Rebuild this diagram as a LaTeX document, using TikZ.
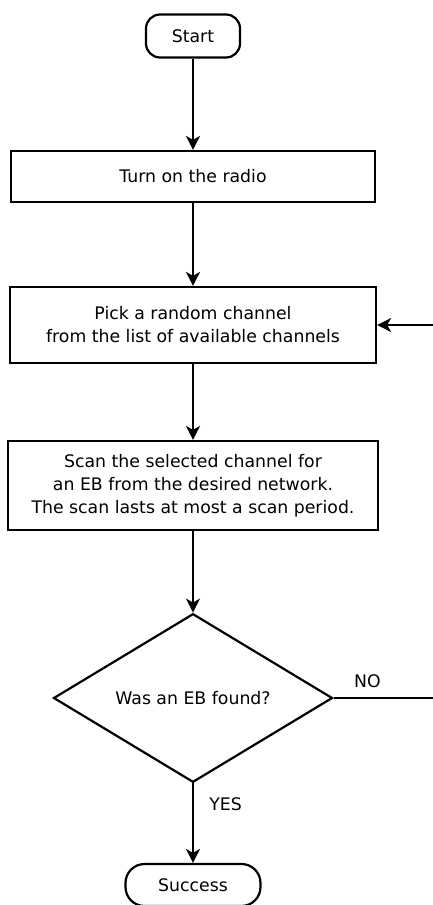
\documentclass[tikz,border=0pt]{standalone}
\usepackage{fontspec}
\setmainfont{DejaVu Sans}
\usetikzlibrary{shapes.geometric,arrows.meta}
\begin{document}
\begin{tikzpicture}[x=1pt,y=-1pt,
  every node/.style={font=\fontsize{17.3}{23}\selectfont},
  box/.style={draw,line width=2.2pt,rectangle,inner sep=0pt,align=center},
  term/.style={draw,line width=2.2pt,rectangle,inner sep=0pt,align=center},
  dec/.style={draw,line width=2.2pt,diamond,inner sep=0pt,minimum width=279pt,minimum height=162pt,align=center},
  lbl/.style={inner sep=0pt},
  arr/.style={line width=2.2pt,-{Stealth[length=14pt,width=14pt,inset=4pt]}}]
\useasboundingbox (0,0) rectangle (432,905);
\node[term,rounded corners=14pt,minimum width=94pt,minimum height=43pt] (start) at (193,36) {Start};
\node[box,minimum width=364pt,minimum height=51pt] (radio) at (193,176.5) {Turn on the radio};
\node[box,minimum width=366pt,minimum height=76pt] (pick) at (193,325) {Pick a random channel\\from the list of available channels};
\node[box,minimum width=370pt,minimum height=89pt] (scan) at (193,485.5) {Scan the selected channel for\\an EB from the desired network.\\The scan lasts at most a scan period.};
\node[dec] (found) at (193,698) {Was an EB found?};
\node[term,rounded corners=19pt,minimum width=135pt,minimum height=42pt] (success) at (193,885) {Success};
\node[lbl] (no) at (367.5,681.5) {NO};
\node[lbl] (yes) at (225.5,804) {YES};
\coordinate (loop) at (436,698);
\draw[arr] (start) -- (radio);
\draw[arr] (radio) -- (pick);
\draw[arr] (pick) -- (scan);
\draw[arr] (scan) -- (found);
\draw[arr] (found) -- (success);
\draw[arr] (found.east) -- (loop) |- (pick.east);
\end{tikzpicture}
\end{document}
